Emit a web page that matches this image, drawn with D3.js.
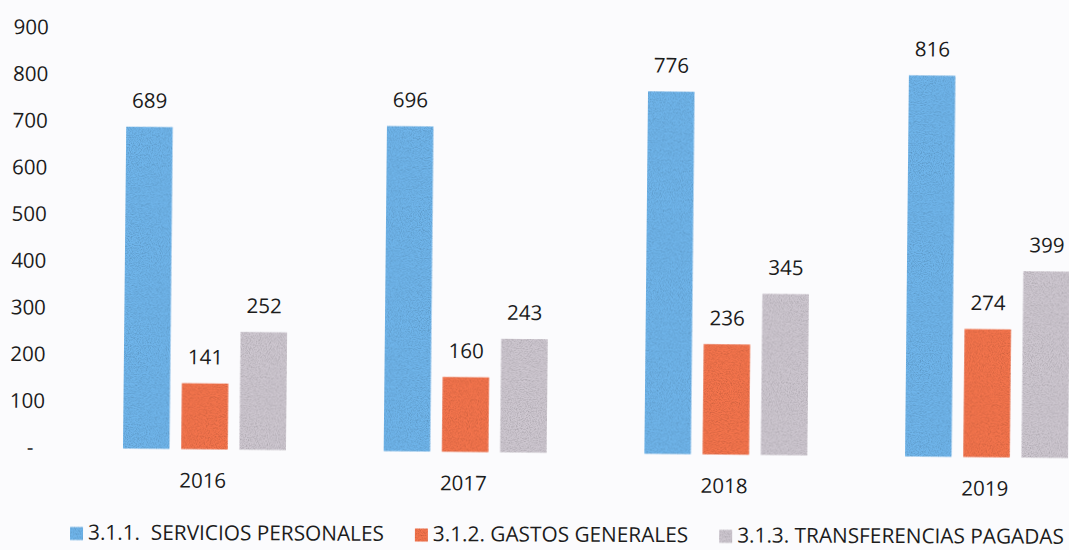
<!DOCTYPE html>
<html>
<head>
<meta charset="utf-8">
<script src="https://cdn.jsdelivr.net/npm/d3@7"></script>
<style>
  html, body { margin: 0; padding: 0; background: #fbfbfd; }
  svg { display: block; font-family: "Open Sans", Lato, "Liberation Sans", sans-serif; }
  text { fill: #1c1c1c; }
</style>
</head>
<body>
<svg id="chart" width="1069" height="550"></svg>
<script>
// Budget execution by item, 2016-2019
const years = ["2016", "2017", "2018", "2019"];
const seriesNames = [
  "3.1.1.  SERVICIOS PERSONALES",
  "3.1.2. GASTOS GENERALES",
  "3.1.3. TRANSFERENCIAS PAGADAS"
];
const serviciosPersonales = [689, 696, 776, 816];
const gastosGenerales = [141, 160, 236, 274];
const transferenciasPagadas = [252, 243, 345, 399];
const yTickValues = [0, 100, 200, 300, 400, 500, 600, 700, 800, 900];
const seriesColors = ["#70b5eb", "#f4744e", "#cec7d0"];

const seriesValues = [serviciosPersonales, gastosGenerales, transferenciasPagadas];
const rows = years.map((yr, i) => ({
  year: yr,
  values: seriesNames.map((name, s) => ({ key: name, series: s, value: seriesValues[s][i] }))
}));

const svg = d3.select("#chart");
const baseY = 447.5;
const fontSize = 20.5;
const legendFontSize = 20.8;

// light speckle texture on the bars
const defs = svg.append("defs");
const grain = defs.append("filter").attr("id", "grain")
  .attr("x", 0).attr("y", 0).attr("width", "100%").attr("height", "100%");
grain.append("feTurbulence").attr("type", "fractalNoise")
  .attr("baseFrequency", 0.9).attr("numOctaves", 2).attr("seed", 7).attr("result", "noise");
grain.append("feColorMatrix").attr("in", "noise").attr("type", "matrix")
  .attr("values", "0 0 0 0 0  0 0 0 0 0  0 0 0 0 0  0.8 0 0 0 -0.32")
  .attr("result", "specks");
grain.append("feComposite").attr("in", "specks").attr("in2", "SourceGraphic")
  .attr("operator", "in").attr("result", "dots");
const merge = grain.append("feMerge");
merge.append("feMergeNode").attr("in", "SourceGraphic");
merge.append("feMergeNode").attr("in", "dots");

// whole chart sits on a very slight clockwise tilt
const plot = svg.append("g").attr("transform", `rotate(0.58, 30, ${baseY})`);

const y = d3.scaleLinear().domain([0, 900]).range([baseY, 27.2]);

const x0 = d3.scaleBand().domain(years).range([74.1, 1116.9])
  .paddingInner(0.375).paddingOuter(0.1875);
const x1 = d3.scaleBand().domain(seriesNames).range([0, x0.bandwidth()])
  .paddingInner(0.202).paddingOuter(0);

// y axis labels only (no line, no ticks)
const yAxis = plot.append("g")
  .attr("transform", "translate(44.5,0)")
  .call(d3.axisLeft(y).tickValues(yTickValues).tickSize(0).tickPadding(0)
    .tickFormat(d => d === 0 ? "-" : d));
yAxis.select(".domain").remove();
yAxis.selectAll("text")
  .attr("font-family", "'Open Sans', Lato, sans-serif")
  .attr("font-size", fontSize)
  .style("fill", "#1c1c1c");
yAxis.selectAll(".tick").filter(d => d === 0).select("text")
  .attr("text-anchor", "middle").attr("x", -14.5);

// grouped bars
const groups = plot.append("g").selectAll("g.year")
  .data(rows).join("g")
  .attr("class", "year")
  .attr("transform", d => `translate(${x0(d.year)},0)`);

groups.selectAll("rect")
  .data(d => d.values).join("rect")
  .attr("x", d => x1(d.key))
  .attr("y", d => y(d.value))
  .attr("width", x1.bandwidth())
  .attr("height", d => y(0) - y(d.value))
  .attr("fill", d => seriesColors[d.series])
  .attr("filter", "url(#grain)");

groups.selectAll("text.value")
  .data(d => d.values).join("text")
  .attr("class", "value")
  .attr("x", d => x1(d.key) + x1.bandwidth() / 2)
  .attr("y", d => y(d.value) - 19)
  .attr("text-anchor", "middle")
  .attr("font-size", fontSize)
  .text(d => d.value);

// category labels
plot.append("g").selectAll("text")
  .data(years).join("text")
  .attr("x", d => x0(d) + x0.bandwidth() / 2 - 1.4)
  .attr("y", baseY + 38.5)
  .attr("text-anchor", "middle")
  .attr("font-size", fontSize)
  .text(d => d);

// legend along the bottom, with a gentler tilt
const legend = svg.append("g").attr("transform", "rotate(0.25, 70, 539.5) translate(70,539.5)");
let lx = 0;
seriesNames.forEach((name, s) => {
  const item = legend.append("g").attr("transform", `translate(${lx},0)`);
  item.append("rect")
    .attr("x", 0).attr("y", -12.5)
    .attr("width", 13).attr("height", 13)
    .attr("fill", seriesColors[s])
    .attr("filter", "url(#grain)");
  const t = item.append("text")
    .attr("x", 18).attr("y", 0)
    .attr("font-size", legendFontSize)
    .style("white-space", "pre")
    .text(name);
  lx += 18 + t.node().getComputedTextLength() + 31;
});
</script>
</body>
</html>
